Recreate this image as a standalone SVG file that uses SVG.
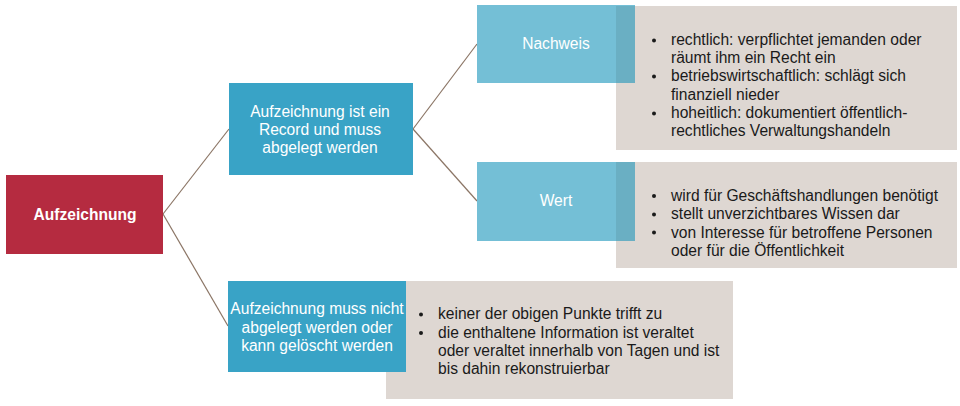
<svg xmlns="http://www.w3.org/2000/svg" width="960" height="406" viewBox="0 0 960 406">
<style>
text{font-family:"Liberation Sans",Arial,sans-serif;font-size:15.6px}
.w{fill:#ffffff;text-anchor:middle}
.k{fill:#1a1a1a}
.g{fill:#DED7D2}
.lb{fill:#74BFD6}
.ov{fill:#6AAFC3}
.db{fill:#39A3C6}
.c{stroke:#8B7565;stroke-width:1.2;fill:none}
</style>
<rect width="960" height="406" fill="#ffffff"/>
<g id="connectors">
<line class="c" x1="163" y1="214" x2="229" y2="129"/>
<line class="c" x1="163" y1="214" x2="228" y2="326"/>
<line class="c" x1="413" y1="129" x2="477" y2="44"/>
<line class="c" x1="413" y1="129" x2="477" y2="201"/>
</g>
<g id="root">
<rect x="6" y="175" width="157" height="79" fill="#B52B40"/>
<text class="w" x="85" y="220" font-weight="bold">Aufzeichnung</text>
</g>
<g id="record">
<rect class="db" x="229" y="83" width="184" height="92"/>
<text class="w" x="320" y="117">Aufzeichnung ist ein</text>
<text class="w" x="320" y="135">Record und muss</text>
<text class="w" x="320" y="153">abgelegt werden</text>
</g>
<g id="nachweis">
<rect class="g" x="616" y="6" width="341" height="144"/>
<rect class="lb" x="477" y="5" width="158" height="78"/>
<rect class="ov" x="616" y="6" width="19" height="77"/>
<text class="w" x="556" y="49">Nachweis</text>
<g class="k">
<circle cx="654" cy="40.5" r="2"/>
<circle cx="654" cy="76.5" r="2"/>
<circle cx="654" cy="113.5" r="2"/>
<text x="671" y="45">rechtlich: verpflichtet jemanden oder</text>
<text x="671" y="63">räumt ihm ein Recht ein</text>
<text x="671" y="81">betriebswirtschaftlich: schlägt sich</text>
<text x="671" y="100">finanziell nieder</text>
<text x="671" y="118">hoheitlich: dokumentiert öffentlich-</text>
<text x="671" y="136">rechtliches Verwaltungshandeln</text>
</g>
</g>
<g id="wert">
<rect class="g" x="616" y="162" width="341" height="106"/>
<rect class="lb" x="477" y="162" width="158" height="79"/>
<rect class="ov" x="616" y="162" width="19" height="79"/>
<text class="w" x="556" y="206">Wert</text>
<g class="k">
<circle cx="654" cy="196" r="2"/>
<circle cx="654" cy="214.5" r="2"/>
<circle cx="654" cy="232.5" r="2"/>
<text x="671" y="201">wird für Geschäftshandlungen benötigt</text>
<text x="671" y="219">stellt unverzichtbares Wissen dar</text>
<text x="671" y="238">von Interesse für betroffene Personen</text>
<text x="671" y="256">oder für die Öffentlichkeit</text>
</g>
</g>
<g id="loeschen">
<rect class="g" x="386" y="281" width="347" height="118"/>
<rect class="db" x="228" y="281" width="178" height="91"/>
<text class="w" x="317" y="314">Aufzeichnung muss nicht</text>
<text class="w" x="317" y="333">abgelegt werden oder</text>
<text class="w" x="317" y="351">kann gelöscht werden</text>
<g class="k">
<circle cx="421" cy="314.5" r="2"/>
<circle cx="421" cy="333" r="2"/>
<text x="438" y="319">keiner der obigen Punkte trifft zu</text>
<text x="438" y="338">die enthaltene Information ist veraltet</text>
<text x="438" y="356">oder veraltet innerhalb von Tagen und ist</text>
<text x="438" y="374">bis dahin rekonstruierbar</text>
</g>
</g>
</svg>
